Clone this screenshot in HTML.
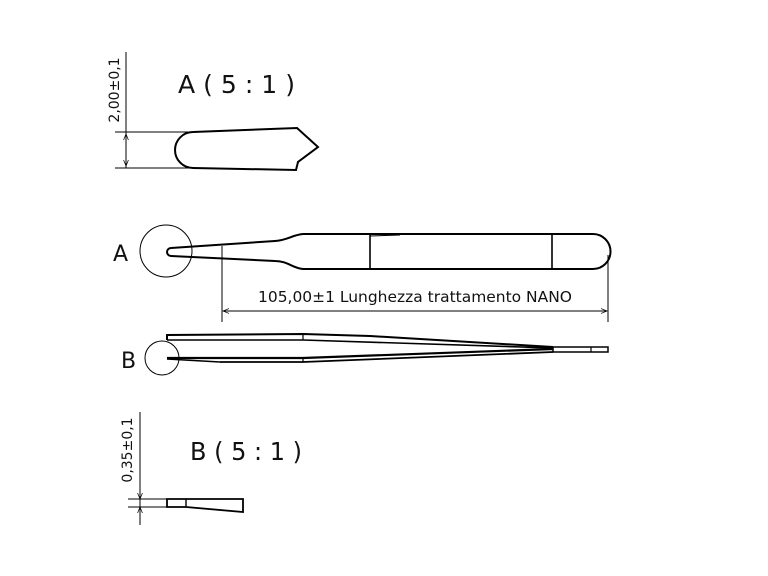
<!DOCTYPE html>
<html><head><style>
html,body{margin:0;padding:0;background:#fff;}
svg{display:block;}
text{font-family:"DejaVu Sans","Liberation Sans",sans-serif;fill:#111;}
</style></head><body>
<svg width="768" height="576" viewBox="0 0 768 576" xmlns="http://www.w3.org/2000/svg">
<defs>
<marker id="ar" viewBox="0 0 10 10" refX="10" refY="5" markerWidth="8" markerHeight="6" orient="auto-start-reverse" markerUnits="userSpaceOnUse"><path d="M0,1 L10,5 L0,9" fill="none" stroke="#000" stroke-width="1.2"/></marker>
</defs>
<g fill="none" stroke="#000">
<!-- Detail A -->
<line x1="126" y1="52" x2="126" y2="168" stroke-width="1"/>
<line x1="115" y1="132" x2="190" y2="132" stroke-width="1"/>
<line x1="115" y1="168" x2="195" y2="168" stroke-width="1"/>
<line x1="126" y1="134" x2="126" y2="166" stroke-width="1" marker-start="url(#ar)" marker-end="url(#ar)"/>
<path d="M193,132 L297,128 L318,147 L298,162 L296,170 L193,168 A18,18 0 0 1 193,132 Z" stroke-width="2"/>
<!-- Tweezer A -->
<circle cx="166" cy="251" r="26" stroke-width="1"/>
<path d="M171,248 L275,241 C288,240 292,235 303,234 L593,234 A17,17 0 0 1 593,269 L303,269 C292,268 288,261 275,261 L171,256 A4,4 0 0 1 171,248 Z" stroke-width="2"/>
<line x1="370" y1="235" x2="370" y2="268" stroke-width="1.6"/>
<path d="M370,236 L400,235" stroke-width="1"/>
<line x1="552" y1="235" x2="552" y2="268" stroke-width="1.6"/>
<line x1="222" y1="246" x2="222" y2="322" stroke-width="1"/>
<line x1="608" y1="255" x2="608" y2="322" stroke-width="1"/>
<line x1="223" y1="311" x2="607" y2="311" stroke-width="1" marker-start="url(#ar)" marker-end="url(#ar)"/>
<!-- Tweezer B -->
<circle cx="162" cy="358" r="17" stroke-width="1"/>
<path d="M167,340 L167,335 L303,334 L370,336 L553,347" stroke-width="2"/>
<path d="M167,340 L303,340 L553,348" stroke-width="1.6"/>
<path d="M167,358 L303,358 L553,349" stroke-width="2.2"/>
<path d="M220,362 L303,362 L553,352" stroke-width="1.8"/>
<path d="M167,359 L220,362" stroke-width="1.6"/>
<line x1="303" y1="334" x2="303" y2="340" stroke-width="1.2"/>
<line x1="303" y1="358" x2="303" y2="362" stroke-width="1.2"/>
<rect x="553" y="347" width="55" height="5" stroke-width="1.5"/>
<line x1="591" y1="347" x2="591" y2="352" stroke-width="1.2"/>
<!-- Detail B -->
<line x1="140" y1="412" x2="140" y2="525" stroke-width="1"/>
<line x1="128" y1="499" x2="170" y2="499" stroke-width="1"/>
<line x1="128" y1="507" x2="170" y2="507" stroke-width="1"/>
<line x1="140" y1="490" x2="140" y2="499" stroke-width="1" marker-end="url(#ar)"/>
<line x1="140" y1="516" x2="140" y2="507" stroke-width="1" marker-end="url(#ar)"/>
<path d="M167,499 L243,499 L243,512 L186,507 L167,507 Z" stroke-width="1.8"/>
<line x1="186" y1="499" x2="186" y2="507" stroke-width="1.4"/>
</g>
<text x="178" y="93" font-size="25" textLength="117" lengthAdjust="spacingAndGlyphs">A ( 5 : 1 )</text>
<text x="190" y="460" font-size="25" textLength="112" lengthAdjust="spacingAndGlyphs">B ( 5 : 1 )</text>
<text transform="translate(119,90) rotate(-90)" font-size="14" text-anchor="middle">2,00±0,1</text>
<text transform="translate(132,450) rotate(-90)" font-size="14" text-anchor="middle">0,35±0,1</text>
<text x="113" y="261" font-size="22">A</text>
<text x="121" y="368" font-size="22">B</text>
<text x="415" y="302" font-size="15" text-anchor="middle" textLength="314" lengthAdjust="spacingAndGlyphs">105,00±1 Lunghezza trattamento NANO</text>
</svg>
</body></html>
